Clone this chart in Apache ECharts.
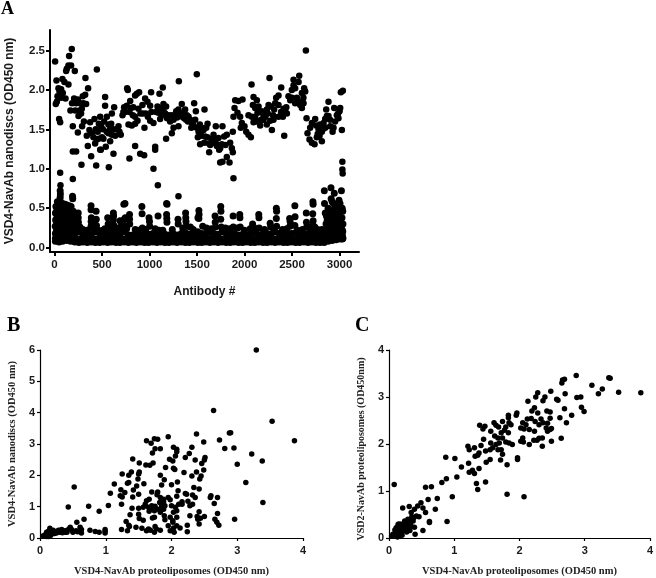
<!DOCTYPE html>
<html>
<head>
<meta charset="utf-8">
<title>VSD4-NavAb ELISA</title>
<script src="https://cdn.jsdelivr.net/npm/echarts@6/dist/echarts.min.js"></script>
<style>
  html, body { margin: 0; padding: 0; background: #fff; }
  #chart { width: 656px; height: 578px; }
</style>
</head>
<body>
<div id="chart"></div>
<script>
// tick labels
const ticksAX = [0, 500, 1000, 1500, 2000, 2500, 3000]
const ticksAY = [0, 0.5, 1.0, 1.5, 2.0, 2.5]

// panel A, upper cloud of binders
const upperA = [
  [7,2.36],[21,2.12],[84,2.14],[105,2.10],[147,2.07],[42,2.02],[70,2.01],[53,1.98],[88,1.96],[32,1.92],[60,1.92],[116,1.89],
  [14,1.82],[25,1.85],[70,1.90],[182,2.52],[154,2.43],[147,2.31],[175,2.31],[123,2.24],[214,2.24],[130,2.27],[326,2.15],[354,2.02],
  [446,2.26],[323,1.94],[298,1.92],[207,1.89],[246,1.88],[305,1.83],[333,1.82],[270,1.83],[288,1.76],[168,1.74],[218,1.74],[263,1.74],
  [253,1.67],[49,1.63],[60,1.59],[193,1.54],[291,1.54],[246,1.46],[351,1.29],[375,1.59],[421,1.63],[481,1.66],[368,1.49],[393,1.45],
  [410,1.40],[446,1.37],[428,1.32],[463,1.38],[467,1.57],[491,1.54],[509,1.50],[523,1.60],[551,1.66],[533,1.80],[533,1.91],[568,1.56],
  [597,1.57],[568,1.45],[604,1.43],[639,1.42],[674,1.54],[684,1.47],[698,1.43],[604,1.70],[628,1.78],[540,1.28],[481,1.24],[586,1.35],
  [716,1.68],[733,1.78],[761,1.80],[797,1.86],[765,2.02],[772,2.00],[849,1.93],[891,1.97],[867,1.95],[803,1.77],[825,1.68],[849,1.66],
  [874,1.61],[779,1.56],[814,1.55],[849,1.57],[884,1.76],[926,1.81],[954,1.89],[979,1.85],[1017,1.97],[1007,1.80],[947,1.52],[961,1.70],
  [983,1.66],[1007,1.61],[1042,1.58],[849,1.29],[1060,1.28],[1105,1.95],[1140,2.03],[1084,1.79],[1147,1.82],[1119,1.77],[1175,1.79],
  [1070,1.72],[1095,1.71],[1130,1.68],[1165,1.70],[1200,1.68],[1235,1.68],[1112,1.63],[1217,1.60],[1253,1.62],[1270,1.66],[1281,1.73],
  [1305,1.75],[1340,1.82],[1309,2.11],[1498,2.20],[1253,1.52],[1305,1.54],[1235,1.45],[1175,1.38],[1358,1.71],[1375,1.75],[1393,1.68],
  [1411,1.66],[1428,1.62],[1446,1.58],[1463,1.55],[1470,1.83],[1488,1.73],[1579,1.75],[1481,1.62],[1498,1.52],[1516,1.47],[1533,1.45],
  [1551,1.52],[1569,1.49],[1611,1.57],[1597,1.52],[1533,1.31],[1576,1.33],[1586,1.41],[1509,1.40],[1698,1.54],[1768,1.54],[1674,1.43],
  [1691,1.37],[1726,1.39],[1639,1.30],[1674,1.33],[1709,1.29],[1761,1.31],[1786,1.41],[1814,1.43],[1849,1.33],[1877,1.47],[1744,1.26],
  [1867,1.26],[193,1.22],[228,1.22],[386,1.16],[284,1.05],[439,1.04],[572,1.02],[488,1.24],[621,1.19],[789,1.13],[902,1.19],[944,1.17],
  [1042,1.00],[1088,0.79],[1060,1.24],[1628,1.21],[1733,1.24],[1744,1.08],[1768,1.09],[1814,1.15],[1842,1.08],[1877,1.21],[1884,0.88],
  [60,0.95],[193,0.87],[63,0.79],[1305,0.65],[1895,1.77],[1902,1.87],[1937,1.86],[1979,1.88],[1884,1.66],[1926,1.71],[1954,1.66],
  [1972,1.58],[2000,1.54],[2018,1.47],[2042,1.43],[2067,1.40],[1961,1.52],[2074,2.07],[2095,1.91],[2130,1.87],[2088,1.81],[2112,1.77],
  [2148,1.79],[2042,1.68],[2077,1.66],[2112,1.66],[2137,1.71],[2183,1.73],[2200,1.68],[2235,1.75],[2263,2.15],[2253,1.81],[2277,1.79],
  [2333,1.90],[2358,1.93],[2386,2.03],[2323,1.83],[2358,1.81],[2312,1.75],[2411,1.76],[2428,1.73],[2446,1.70],[2404,1.66],[2358,1.66],
  [2305,1.62],[2270,1.61],[2235,1.56],[2165,1.55],[2130,1.60],[2095,1.59],[2288,1.49],[2418,1.42],[2200,1.62],[2463,1.92],[2481,1.87],
  [2498,2.00],[2516,2.13],[2516,2.06],[2533,2.02],[2569,2.10],[2576,2.18],[2604,1.96],[2628,2.02],[2639,1.98],[2646,2.50],[2551,1.90],
  [2569,1.85],[2586,1.81],[2604,1.77],[2533,1.83],[2621,1.83],[2653,1.64],[2663,1.45],[2691,1.52],[2709,1.58],[2744,1.63],[2684,1.37],
  [2709,1.33],[2737,1.31],[2754,1.55],[2779,1.50],[2796,1.56],[2814,1.47],[2832,1.58],[2849,1.63],[2867,1.67],[2884,1.85],[2860,1.75],
  [2884,1.67],[2944,1.77],[3007,1.77],[2972,1.68],[2989,1.64],[2954,1.60],[2902,1.54],[2927,1.47],[2937,1.52],[3025,1.49],[3014,1.97],
  [3035,1.99],[2814,1.35],[2761,1.40],[3000,1.73],[3030,1.09],[3030,0.99],[3033,0.94],
  [185,1.83],[228,1.83],[280,1.70],[310,1.60],[340,1.42],[435,1.50],[455,1.47],[500,1.40],[515,1.38],[550,1.47],[585,1.50],[620,1.50],[655,1.50],
  [725,1.72],[745,1.72],[790,1.72],[830,1.78],[905,1.70],[930,1.70],[1020,1.72],[1150,1.72],[1185,1.64],[1290,1.65],[1325,1.70],[1345,1.66],[1365,1.64],
  [1385,1.62],[1405,1.60],[1440,1.52],[1530,1.56],[1545,1.42],[1610,1.40],[1625,1.32],[1655,1.38],[1700,1.32],[1800,1.30],[2150,1.72],[2175,1.62],
  [2220,1.66],[2245,1.70],[2300,1.68],[2385,1.72],[2440,1.78],[2500,1.90],[2620,1.90],[2610,1.85],[2770,1.44],[2790,1.42],[2825,1.50],[2850,1.52],[2900,1.62],[2985,1.70]
]

// panel A, the columns of low values running up out of the band
const spikesA = [
  [60,0.72],[62,0.68],[60,0.64],[58,0.60],[30,0.58],[15,0.52],[45,0.56],[85,0.56],[110,0.55],[130,0.54],[155,0.53],[175,0.52],[190,0.65],[192,0.62],
  [10,0.44],[28,0.48],[42,0.46],[58,0.50],[72,0.47],[92,0.50],[105,0.46],[122,0.48],[140,0.45],[160,0.47],[178,0.44],[198,0.46],[210,0.40],
  [12,0.35],[26,0.38],[40,0.36],[55,0.40],[70,0.38],[88,0.41],[102,0.37],[118,0.40],[135,0.37],[150,0.39],[168,0.36],[185,0.38],[202,0.34],
  [8,0.27],[24,0.29],[38,0.28],[52,0.31],[68,0.30],[84,0.32],[100,0.29],[116,0.31],[132,0.28],[148,0.30],[164,0.28],[180,0.30],[196,0.27],[214,0.26],
  [250,0.44],[250,0.38],[252,0.32],[250,0.27],[268,0.26],[385,0.53],[385,0.48],[388,0.38],[386,0.33],[385,0.27],[438,0.46],[440,0.36],[442,0.28],
  [410,0.24],[462,0.22],[560,0.38],[565,0.30],[562,0.25],[620,0.44],[622,0.40],[620,0.35],[625,0.28],[690,0.34],[692,0.26],[730,0.55],[742,0.56],
  [735,0.36],[745,0.38],[740,0.28],[790,0.42],[790,0.36],[792,0.30],[920,0.52],[922,0.43],[925,0.25],[995,0.38],[1000,0.33],[1002,0.27],[1090,0.40],
  [1100,0.22],[1180,0.56],[1185,0.55],[1180,0.42],[1182,0.37],[1184,0.32],[1300,0.36],[1302,0.30],[1380,0.44],[1382,0.38],[1384,0.33],[1388,0.27],
  [1430,0.26],[1510,0.38],[1520,0.47],[1522,0.42],[1520,0.37],[1600,0.25],[1690,0.40],[1692,0.32],[1695,0.26],[1750,0.52],[1752,0.46],[1750,0.36],
  [1755,0.26],[1880,0.40],[1882,0.26],[1950,0.42],[1952,0.38],[1955,0.26],[2085,0.30],[2090,0.27],[2150,0.42],[2152,0.38],[2155,0.25],[2270,0.31],
  [2275,0.26],[2335,0.50],[2338,0.46],[2335,0.37],[2338,0.27],[2475,0.37],[2480,0.33],[2478,0.27],[2530,0.53],[2532,0.39],[2530,0.28],[2650,0.44],
  [2652,0.32],[2655,0.26],[2720,0.58],[2722,0.55],[2718,0.43],[2722,0.34],[2720,0.28],[2740,0.26],
  [2840,0.72],[2842,0.56],[2850,0.44],[2862,0.40],[2870,0.34],[2880,0.50],[2892,0.44],[2910,0.76],[2912,0.62],[2922,0.58],[2936,0.56],[2945,0.69],
  [2950,0.50],[2965,0.54],[2985,0.52],[2995,0.60],[3005,0.56],[3020,0.72],[3028,0.50],[3034,0.46],[2858,0.30],[2875,0.27],[2890,0.36],[2905,0.47],
  [2918,0.40],[2930,0.46],[2942,0.38],[2958,0.42],[2972,0.36],[2986,0.43],[3000,0.40],[3014,0.46],[3026,0.38],[3036,0.30],[2900,0.30],[2915,0.27],
  [2930,0.33],[2948,0.29],[2962,0.31],[2978,0.28],[2992,0.31],[3008,0.30],[3020,0.27],[3034,0.20],[3036,0.12],[2905,0.20],[2925,0.22],[2945,0.20],
  [2965,0.22],[2985,0.19],[3005,0.22],[3025,0.14],[2880,0.22],[2860,0.20],[2990,0.14],[2950,0.16],
  [100,0.21],[20,0.21],[60,0.22],[140,0.22],[180,0.21],[205,0.22],[230,0.28],[232,0.24],[300,0.23],[345,0.22],[420,0.30],[424,0.25],[510,0.22],[530,0.24],
  [600,0.26],[660,0.24],[700,0.22],[760,0.24],[850,0.23],[880,0.22],[960,0.23],[1060,0.24],[1140,0.22],[1240,0.23],[1350,0.25],[1460,0.23],[1560,0.27],
  [1650,0.24],[1800,0.25],[1845,0.24],[1925,0.25],[2000,0.22],[2060,0.24],[2130,0.24],[2210,0.23],[2300,0.25],[2400,0.23],[2445,0.24],[2560,0.22],
  [2610,0.23],[2685,0.26],[2770,0.23],[2815,0.23]
]

// panel A, the dense band along the floor: one x and three heights per column
const bandX = [
  10,48,85,128,170,215,258,300,345,388,430,475,518,560,602,648,690,735,778,820,
  862,905,948,990,1035,1078,1120,1162,1205,1248,1290,1335,1378,1420,1462,1508,1550,1592,1635,1678,
  1722,1765,1808,1850,1892,1938,1980,2022,2065,2108,2150,2195,2238,2280,2322,2365,2410,2452,2495,2538,
  2580,2625,2668,2710,2752,2795,2838,2880,2922,2965,3008,3030
]
const bandLow = [
  .08,.07,.08,.09,.08,.07,.065,.07,.065,.07,.065,.065,.07,.065,.07,.065,.065,.07,.065,.07,
  .065,.07,.065,.065,.07,.065,.07,.065,.065,.07,.065,.07,.065,.065,.07,.065,.065,.07,.065,.07,
  .065,.07,.065,.065,.07,.065,.065,.07,.065,.065,.07,.065,.065,.07,.065,.07,.065,.065,.07,.065,
  .065,.07,.065,.07,.065,.065,.065,.08,.09,.10,.11,.11
]
const bandMid = [
  .12,.13,.12,.13,.13,.12,.11,.12,.11,.12,.11,.12,.11,.12,.12,.11,.12,.11,.12,.12,
  .11,.12,.12,.11,.12,.11,.12,.12,.11,.12,.11,.12,.12,.11,.12,.12,.11,.12,.11,.12,
  .12,.11,.12,.12,.11,.12,.11,.12,.12,.11,.12,.11,.12,.12,.11,.12,.12,.11,.12,.11,
  .12,.12,.11,.12,.12,.11,.12,.13,.14,.14,.14,.15
]
const bandTop = [
  .18,.20,.17,.19,.20,.18,.20,.16,.17,.17,.20,.18,.16,.17,.19,.17,.17,.20,.16,.16,
  .17,.16,.19,.17,.18,.16,.20,.17,.16,.18,.16,.18,.19,.17,.16,.20,.18,.18,.19,.18,
  .17,.20,.18,.19,.18,.16,.17,.16,.18,.19,.16,.18,.18,.17,.20,.18,.16,.17,.18,.19,
  .16,.17,.18,.20,.18,.16,.17,.22,.23,.22,.24,.22
]

// panel B, x is proteoliposomes, y is nanodiscs
const scatterB = [
  [3.29,6.00],[2.64,4.07],[3.53,3.73],[3.87,3.10],[2.88,3.35],[2.90,3.36],[2.73,3.13],[2.95,2.87],[2.81,2.86],[3.22,2.68],[3.38,2.46],[3.00,2.35],
  [3.13,1.77],[3.39,1.13],[2.96,0.60],[2.38,3.32],[2.49,3.06],[2.31,2.90],[2.27,2.70],[2.21,2.57],[2.36,2.49],[2.51,2.57],[2.50,2.49],[2.46,2.38],
  [2.49,2.17],[2.38,2.11],[2.19,2.09],[2.31,1.98],[2.45,1.98],[2.43,1.88],[1.95,3.23],[1.62,3.10],[1.69,3.02],[1.74,3.17],[1.79,3.15],[1.75,2.85],
  [1.83,2.85],[1.71,2.71],[2.03,2.90],[2.08,2.83],[2.08,2.75],[2.06,2.62],[1.97,2.51],[2.02,2.46],[1.41,2.52],[1.51,2.39],[1.61,2.33],[1.67,2.32],
  [1.72,2.39],[1.91,2.25],[2.03,2.23],[2.05,2.19],[1.39,2.11],[1.25,2.04],[1.35,2.00],[1.51,2.11],[1.50,2.04],[1.49,1.88],[1.83,2.00],[1.89,1.86],
  [1.13,1.72],[1.33,1.75],[1.35,1.77],[1.58,1.73],[1.47,1.66],[1.42,1.53],[1.23,1.54],[1.29,1.45],[1.22,1.35],[1.25,1.31],[1.07,1.43],[1.41,1.31],
  [1.50,1.40],[2.09,1.79],[2.00,1.70],[1.85,1.69],[2.10,1.51],[2.21,1.42],[2.23,1.40],[2.34,1.61],[2.42,1.56],[2.32,1.37],[2.36,1.29],[2.60,1.35],
  [2.59,1.29],[2.70,1.29],[2.65,1.10],[2.70,0.78],[1.24,1.08],[1.04,1.04],[0.74,1.01],[0.43,0.99],[0.52,1.63],[0.90,0.85],[0.67,0.60],[0.56,0.50],
  [1.70,1.47],[1.79,1.47],[1.78,1.38],[1.83,1.29],[1.88,1.24],[1.95,1.29],[1.98,1.22],[2.08,1.33],[2.16,1.16],[2.00,1.03],[2.11,1.08],[2.16,1.08],
  [2.25,1.17],[2.28,1.03],[2.32,1.08],[1.62,1.19],[1.66,1.24],[1.60,1.08],[1.57,0.98],[1.65,0.98],[1.70,1.03],[1.75,1.01],[1.82,1.13],[1.85,1.16],
  [1.88,1.16],[1.90,1.03],[1.85,1.03],[1.80,0.92],[1.88,0.92],[1.83,0.82],[1.89,0.71],[1.90,0.58],[1.40,0.95],[1.50,0.95],[1.68,0.92],[1.74,0.87],
  [1.66,0.85],[2.06,0.98],[2.08,0.87],[2.03,0.82],[1.98,0.66],[2.02,0.55],[2.08,0.66],[1.37,0.74],[1.50,0.76],[1.51,0.62],[1.57,0.57],[1.71,0.64],
  [1.74,0.66],[1.31,0.53],[1.35,0.41],[1.36,0.37],[1.46,0.34],[1.55,0.31],[1.65,0.29],[1.75,0.37],[1.77,0.29],[1.74,0.18],[1.83,0.25],[1.98,0.23],
  [2.03,0.32],[2.08,0.39],[2.13,0.32],[2.04,0.18],[1.95,0.39],[2.02,0.50],[1.24,0.27],[1.33,0.23],[1.62,0.23],[1.68,0.25],[2.24,0.41],[2.24,0.20],
  [2.28,0.71],[2.42,0.84],[2.39,0.69],[2.44,0.63],[2.50,0.69],[2.40,0.60],[2.42,0.45],[2.66,0.60],[2.69,0.50],[2.72,0.41],[0.76,0.25],[0.84,0.21],
  [0.90,0.18],[0.99,0.21],[0.99,0.27],[0.99,0.16],[0.63,0.16],[0.63,0.27],[0.61,0.34],[0.55,0.23],[0.50,0.18],[0.46,0.34],[0.44,0.29],[0.41,0.18],
  [0.36,0.23],[0.33,0.27],[0.28,0.25],[0.30,0.18],[0.23,0.20],[0.18,0.23],[0.15,0.31],[0.15,0.16],[0.10,0.18],[0.08,0.10],[0.13,0.11],[0.18,0.13],
  [0.25,0.16],[0.10,0.05],[0.38,0.18],[0.57,0.20],[0.48,0.27],[0.20,0.25],[0.05,0.07],[0.13,0.05],[0.16,0.08],[0.22,0.14],[0.30,0.24],[0.40,0.24],
  [0.34,0.17],[0.27,0.21],[0.20,0.17],[0.12,0.20],[0.16,0.19]
]

// panel C, x is proteoliposomes VSD4, y is proteoliposomes VSD2
const scatterC = [
  [3.86,3.09],[3.52,3.10],[3.37,3.41],[3.39,3.40],[3.27,3.17],[3.21,3.07],[3.11,3.25],[2.87,3.46],[2.99,2.69],[2.95,2.78],[2.94,3.00],[2.88,2.99],
  [2.80,2.61],[2.72,2.45],[2.69,2.75],[2.62,2.56],[2.64,2.12],[2.70,3.07],[2.69,3.38],[2.66,3.36],[2.65,3.30],[2.59,2.93],[2.57,2.95],[2.48,3.12],
  [2.39,3.00],[2.36,2.92],[2.28,3.09],[2.25,3.00],[2.13,2.91],[2.47,2.68],[2.42,2.70],[2.47,2.55],[2.23,2.77],[2.19,2.70],[2.12,2.53],[2.18,2.54],
  [2.28,2.66],[2.33,2.53],[2.36,2.45],[2.43,2.44],[2.24,2.48],[2.30,2.41],[2.05,2.45],[2.10,2.41],[2.02,2.34],[2.07,2.32],[2.15,2.31],[2.23,2.27],
  [2.41,2.34],[2.47,2.31],[2.49,2.33],[2.43,2.27],[2.35,2.13],[2.30,2.12],[2.27,2.08],[2.22,2.08],[2.15,1.99],[2.35,1.95],[2.49,2.06],[2.05,2.13],
  [2.02,2.06],[2.06,2.04],[1.96,2.66],[1.95,2.61],[1.83,2.61],[1.83,2.56],[1.74,2.48],[1.61,2.45],[1.64,2.40],[1.68,2.36],[1.39,2.40],[1.47,2.38],
  [1.44,2.32],[1.56,2.27],[1.84,2.45],[1.87,2.41],[1.79,2.36],[1.77,2.29],[1.83,2.24],[1.72,2.24],[1.74,2.13],[1.67,2.13],[1.62,2.17],[1.45,2.10],
  [1.84,2.02],[1.89,1.99],[1.79,2.04],[1.69,2.02],[1.64,1.99],[1.56,2.02],[1.59,1.92],[1.67,1.88],[1.55,1.88],[1.48,1.85],[1.41,1.97],[1.31,1.92],
  [1.21,1.95],[1.23,1.88],[1.32,1.74],[1.38,1.81],[1.36,1.76],[1.72,1.88],[1.74,1.78],[1.71,1.66],[1.81,1.56],[1.97,1.67],[1.97,1.71],[1.55,1.67],
  [1.49,1.61],[1.22,1.59],[0.87,1.72],[1.01,1.69],[1.11,1.51],[1.23,1.40],[1.28,1.44],[1.31,1.37],[1.38,1.48],[1.04,1.30],[0.88,1.26],[0.81,1.18],
  [1.34,1.16],[1.48,1.19],[1.36,1.03],[1.81,0.93],[2.07,0.88],[0.08,1.14],[0.56,1.08],[0.65,1.09],[0.60,0.82],[0.74,0.84],[0.71,0.61],[0.97,0.88],
  [0.89,0.35],[0.62,0.33],[0.62,0.35],[0.52,0.16],[0.40,0.08],[0.56,0.54],[0.21,0.64],[0.31,0.67],[0.44,0.68],[0.49,0.75],[0.39,0.61],[0.34,0.54],
  [0.42,0.47],[0.46,0.45],[0.52,0.64],[0.29,0.40],[0.24,0.36],[0.37,0.36],[0.34,0.25],[0.39,0.23],[0.29,0.29],[0.14,0.29],[0.16,0.30],[0.19,0.29],
  [0.21,0.25],[0.24,0.24],[0.27,0.22],[0.11,0.22],[0.09,0.17],[0.14,0.18],[0.19,0.18],[0.16,0.11],[0.12,0.13],[0.06,0.08],[0.04,0.04],[0.21,0.17],
  [0.11,0.08],[0.19,0.10],[0.27,0.13],[0.32,0.16],[0.09,0.06],[0.15,0.04],[0.29,0.18],[0.14,0.25],[0.24,0.33],[0.18,0.22],[0.33,0.33],[0.38,0.43],
  [0.20,0.06],[0.13,0.02],[0.23,0.19],[0.35,0.45],[0.31,0.36],[0.17,0.14]
]

// the dense band is kept per column above, flatten it for the series
const bandA = []
bandX.forEach((x, i) => {
  bandA.push([x, bandLow[i]], [x, bandMid[i]], [x, bandTop[i]])
})

const sans = '"Liberation Sans", Arial, sans-serif'
const serif = '"Liberation Serif", "Times New Roman", serif'
const ink = '#1a1a1a'

// builds one value axis, ticks always pointing outwards
function makeAxis(grid, min, max, name, opts) {
  const o = opts || {}
  const axis = {
    type: 'value',
    gridIndex: grid,
    min: min,
    max: max,
    name: name,
    nameLocation: 'middle',
    nameGap: o.gap,
    nameTextStyle: o.nameStyle,
    splitLine: { show: false },
    axisLine: { show: true, onZero: false, lineStyle: { color: '#000', width: o.lineWidth } },
    axisTick: { show: true, length: o.tick, lineStyle: { color: '#000', width: o.lineWidth } },
    axisLabel: { color: ink, fontFamily: sans, fontWeight: 'bold', fontSize: o.fontSize, margin: o.margin, showMinLabel: true, showMaxLabel: true }
  }
  if (o.ticks) {
    axis.axisTick.customValues = o.ticks
    axis.axisLabel.customValues = o.ticks
  } else {
    axis.interval = 1
  }
  if (o.format) axis.axisLabel.formatter = o.format
  return axis
}

const nameA = { fontFamily: sans, fontWeight: 'bold', fontSize: 12, color: ink }
const nameSerif = { fontFamily: serif, fontWeight: 'bold', fontSize: 10.5, color: '#222' }
const nameSerifC = { fontFamily: serif, fontWeight: 'bold', fontSize: 10, color: '#222', padding: [0, 0, 0, -10] }

const dot = (data, x, y, size) => ({
  type: 'scatter',
  xAxisIndex: x,
  yAxisIndex: y,
  data: data,
  symbol: 'circle',
  symbolSize: size,
  itemStyle: { color: '#000', opacity: 1 },
  silent: true,
  clip: false,
  animation: false,
  large: false
})

const panelTitle = (text, left, top, size) => ({
  text: text,
  left: left,
  top: top,
  padding: 0,
  textStyle: { fontFamily: serif, fontWeight: 'bold', fontSize: size, color: '#000' }
})

const chart = echarts.init(document.getElementById('chart'), null, { renderer: 'canvas' })
chart.setOption({
  backgroundColor: '#fff',
  animation: false,
  title: [panelTitle('A', 1, 0, 18), panelTitle('B', 7, 316, 20), panelTitle('C', 355, 316, 20)],
  grid: [
    { left: 50, top: 30, width: 309, height: 222 },
    { left: 40, top: 350, width: 263, height: 189 },
    { left: 389, top: 350, width: 262, height: 189 }
  ],
  xAxis: [
    makeAxis(0, -47, 3205, 'Antibody #', { gap: 34, nameStyle: nameA, lineWidth: 2, tick: 4, margin: 7, fontSize: 11.5, ticks: ticksAX, format: v => String(v) }),
    makeAxis(1, 0, 4, 'VSD4-NavAb proteoliposomes (OD450 nm)', { gap: 28, nameStyle: nameSerif, lineWidth: 1.2, tick: 3, margin: 7, fontSize: 11 }),
    makeAxis(2, 0, 4, 'VSD4-NavAb proteoliposomes (OD450 nm)', { gap: 28, nameStyle: nameSerif, lineWidth: 1.2, tick: 3, margin: 7, fontSize: 11 })
  ],
  yAxis: [
    makeAxis(0, -0.056, 2.76, 'VSD4-NavAb nanodiscs (OD450 nm)', { gap: 34, nameStyle: nameA, lineWidth: 2, tick: 4, margin: 5, fontSize: 11.5, ticks: ticksAY, format: v => v.toFixed(1) }),
    makeAxis(1, 0, 6, 'VSD4-NavAb nanodiscs (OD450 nm)', { gap: 22, nameStyle: nameSerif, lineWidth: 1.2, tick: 3, margin: 5, fontSize: 11 }),
    makeAxis(2, 0, 4, 'VSD2-NavAb proteoliposomes (OD450nm)', { gap: 23, nameStyle: nameSerifC, lineWidth: 1.2, tick: 3, margin: 5, fontSize: 11 })
  ],
  series: [
    dot(bandA, 0, 0, 7),
    dot(spikesA, 0, 0, 7),
    dot(upperA, 0, 0, 6.5),
    dot(scatterB, 1, 1, 5.5),
    dot(scatterC, 2, 2, 5.5)
  ]
})
</script>
</body>
</html>
